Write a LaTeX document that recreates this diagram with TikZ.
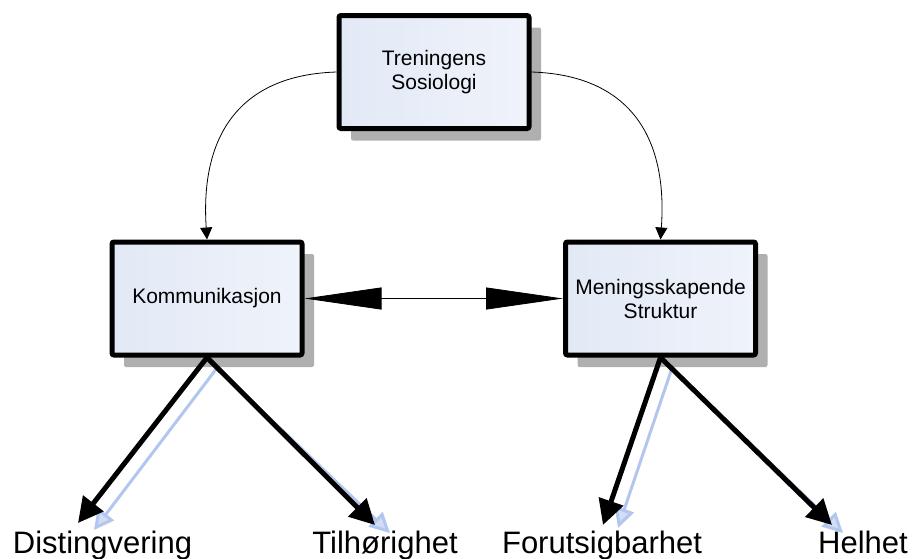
\documentclass[tikz,border=0pt]{standalone}
\usepackage{fontspec}
\setmainfont{Liberation Sans}
\usetikzlibrary{arrows.meta,shadows}
\definecolor{boxfill}{RGB}{226,233,246}
\definecolor{shadowgray}{RGB}{175,175,175}
\definecolor{hatchblue}{RGB}{178,198,238}
\begin{document}
\begin{tikzpicture}[x=1pt,y=-1pt,
  box/.style={draw=black, line width=5pt, rounded corners=2pt,
    left color=boxfill, right color=boxfill!55!white,
    minimum width=190pt, minimum height=113pt, align=center, inner sep=0pt,
    font=\fontsize{21}{24}\selectfont,
    drop shadow={shadow xshift=12pt, shadow yshift=-12pt, fill=shadowgray, opacity=1}},
  lab/.style={font=\fontsize{31}{37}\selectfont, inner sep=0pt, anchor=base},
  curvearrow/.style={line width=0.8pt, -{Triangle[length=12pt,width=12pt]}},
  bothway/.style={line width=0.8pt, {Triangle[length=77pt,width=22pt]}-{Triangle[length=77pt,width=22pt]}},
  bigarrow/.style={line width=5pt, -{Triangle[length=25pt,width=25pt]}},
  bluearrow/.style={draw=hatchblue, line width=3pt, -{Triangle[length=20pt,width=20pt,fill=hatchblue!60]}}
]
\useasboundingbox (0,0) rectangle (914,558);

% boxes
\node[box] (t) at (434,72) {Treningens\\Sosiologi};
\node[box] (k) at (207,298.5) {Kommunikasjon};
\node[box] (m) at (660.5,298.5) {Meningsskapende\\Struktur};

% labels
\node[lab] (d)  at (102.5,553) {Distingvering};
\node[lab] (ti) at (385,553) {Tilhørighet};
\node[lab] (f)  at (602,553) {Forutsigbarhet};
\node[lab] (h)  at (863,553) {Helhet};

% arrow end points
\coordinate (dtip) at (78,523);
\coordinate (ttip) at (375,525);
\coordinate (ftip) at (603,525);
\coordinate (htip) at (832,525);
\coordinate (kb) at (217,368);
\coordinate (mb) at (672,368);
\coordinate (dblue) at (94,530);
\coordinate (tblue) at (390,533);
\coordinate (fblue) at (618,528);
\coordinate (hblue) at (843,533);

% curved connectors
\draw[curvearrow] (t.west) .. controls (240,75) and (200,135) .. (k.north);
\draw[curvearrow] (t.east) .. controls (628,75) and (668,135) .. (m.north);

% bidirectional
\draw[bothway] (k.east) -- (m.west);

% blue shadow arrows
\draw[bluearrow] (kb) -- (dblue);
\draw[bluearrow] (kb) -- (tblue);
\draw[bluearrow] (mb) -- (fblue);
\draw[bluearrow] (mb) -- (hblue);

% black arrows
\draw[bigarrow] (k.south) -- (dtip);
\draw[bigarrow] (k.south) -- (ttip);
\draw[bigarrow] (m.south) -- (ftip);
\draw[bigarrow] (m.south) -- (htip);
\end{tikzpicture}
\end{document}
